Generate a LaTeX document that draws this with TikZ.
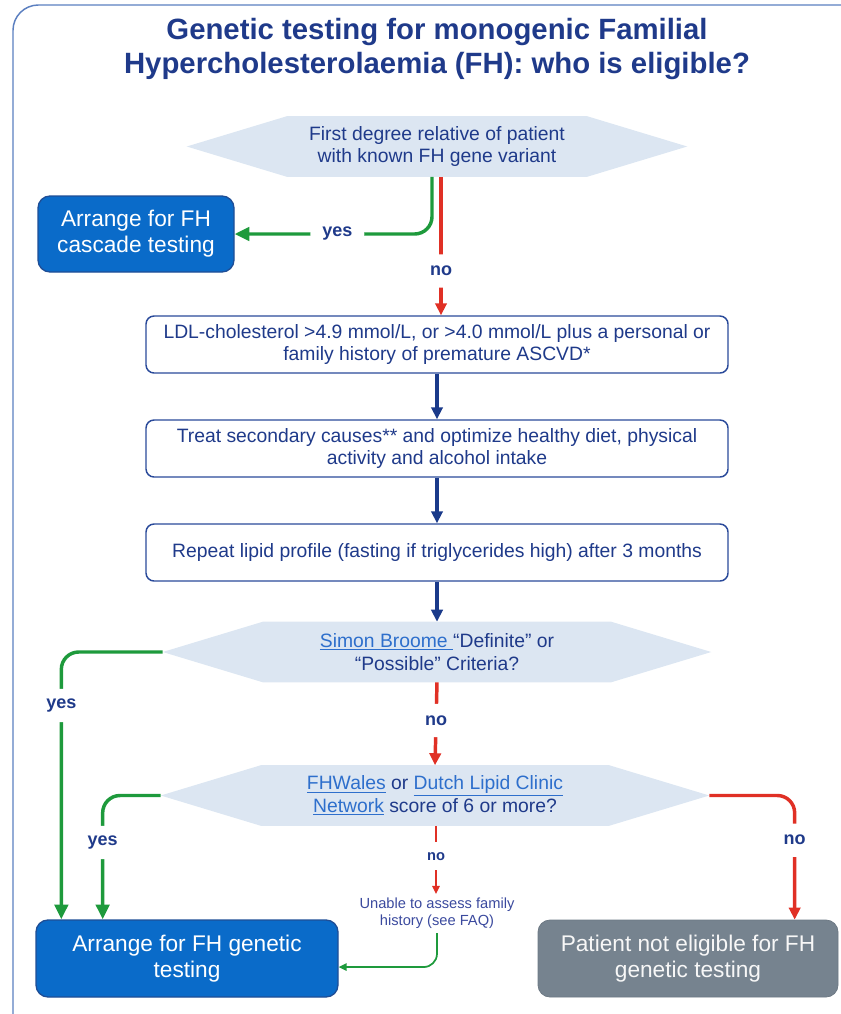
\documentclass[tikz,border=0pt]{standalone}
\usepackage{fontspec}
\setmainfont{Liberation Sans}
\usetikzlibrary{arrows.meta,calc}
\pgfdeclarelayer{background}
\pgfsetlayers{background,main}
\definecolor{navy}{HTML}{1F3A8A}
\definecolor{ggreen}{HTML}{1E9A3C}
\definecolor{rred}{HTML}{E03025}
\definecolor{barrow}{HTML}{1A3A8A}
\definecolor{bbfill}{HTML}{0A6BC9}
\definecolor{bbborder}{HTML}{1F4E96}
\definecolor{greyfill}{HTML}{76838F}
\definecolor{hexfill}{HTML}{DCE6F2}
\definecolor{linkc}{HTML}{2E6FCC}
\definecolor{framec}{HTML}{5B7FC0}
\definecolor{smalltext}{HTML}{3B4A9E}
\definecolor{boxborder}{HTML}{2A4A9A}
\newcommand{\lnk}[1]{\textcolor{linkc}{\underline{#1}}}
\begin{document}
\begin{tikzpicture}[x=0.75pt,y=-0.75pt,
  title/.style={text=navy,font=\fontsize{22}{25.5}\selectfont\bfseries,align=center},
  wbox/.style={draw=boxborder,line width=1.1pt,fill=white,rounded corners=6pt,text=navy,
    font=\fontsize{14.5}{17}\selectfont,align=center,minimum width=436.5pt,minimum height=42.75pt,inner sep=0pt},
  bluebox/.style={draw=bbborder,line width=1pt,fill=bbfill,rounded corners=9pt,text=white,
    font=\fontsize{17}{19.5}\selectfont,align=center,inner sep=0pt},
  greybox/.style={draw=greyfill!92!black,line width=0.6pt,fill=greyfill,rounded corners=9pt,text=white!94!gray,
    font=\fontsize{17}{19.5}\selectfont,align=center,inner sep=0pt},
  hexnode/.style={minimum height=45pt,inner sep=0pt,align=center,text=navy,font=\fontsize{14.5}{17}\selectfont},
  hexshape/.style={fill=hexfill},
  garr/.style={draw=ggreen,line width=2.6pt,-{Triangle[length=11pt,width=10pt]},rounded corners=13pt},
  rarr/.style={draw=rred,line width=2.6pt,-{Triangle[length=9pt,width=8.5pt]},rounded corners=13pt},
  barr/.style={draw=barrow,line width=2.4pt,-{Triangle[length=9pt,width=8.5pt]}},
  rthin/.style={draw=rred,line width=1.3pt,-{Triangle[length=6pt,width=5.5pt]}},
  gthin/.style={draw=ggreen,line width=1.3pt,-{Triangle[length=6pt,width=5.5pt]},rounded corners=10pt},
  lbl/.style={fill=white,text=navy,font=\fontsize{13.5}{15}\selectfont\bfseries,inner xsep=9pt,minimum height=25pt},
  slbl/.style={fill=white,text=navy,font=\fontsize{11}{13}\selectfont\bfseries,inner xsep=5pt,minimum height=21pt},
  smallnote/.style={text=smalltext,font=\fontsize{11}{12.75}\selectfont,align=center,inner sep=3pt}
]
\useasboundingbox (0,0) rectangle (841,1014);
\clip (0,0) rectangle (841,1014);
% outer frame
\draw[framec,line width=1.1pt,rounded corners=19pt] (13,1060) -- (13,5) -- (900,5);

% title
\node[title] (title) at (437,49) {Genetic testing for monogenic Familial\\Hypercholesterolaemia (FH): who is eligible?};

% hexagon decisions
\node[hexnode,minimum width=375pt] (h1) at (437,146.5) {First degree relative of patient\\with known FH gene variant};
\node[hexnode,minimum width=411pt] (h2) at (437,652) {\lnk{Simon Broome\ }“Definite” or\\“Possible” Criteria?};
\node[hexnode,minimum width=411pt] (h3) at (435,795.5) {\lnk{FHWales} or \lnk{Dutch Lipid Clinic}\\\lnk{Network} score of 6 or more?};
\begin{pgfonlayer}{background}
\foreach \h in {h1,h2,h3}{
  \fill[hexshape] (\h.west) -- ([xshift=75pt]\h.north west) -- ([xshift=-75pt]\h.north east) -- (\h.east)
    -- ([xshift=-75pt]\h.south east) -- ([xshift=75pt]\h.south west) -- cycle;
}
\end{pgfonlayer}

% boxes
\node[bluebox,minimum width=147pt,minimum height=57pt] (casc) at (136,234) {Arrange for FH\\cascade testing};
\node[wbox] (ldl) at (437,344.5) {LDL-cholesterol >4.9 mmol/L, or >4.0 mmol/L plus a personal or\\family history of premature ASCVD*};
\node[wbox] (treat) at (437,448.5) {Treat secondary causes** and optimize healthy diet, physical\\activity and alcohol intake};
\node[wbox] (rep) at (437,552.5) {Repeat lipid profile (fasting if triglycerides high) after 3 months};
\node[bluebox,minimum width=226.5pt,minimum height=57.75pt] (gen) at (187,958.5) {Arrange for FH genetic\\testing};
\node[greybox,minimum width=225pt,minimum height=57.75pt] (grey) at (688,958.5) {Patient not eligible for FH\\genetic testing};
\node[smallnote] (unable) at (437,913.5) {Unable to assess family\\history (see FAQ)};

% connectors
\draw[garr] ([xshift=-3.75pt]h1.south) |- (casc.east) node[lbl,pos=0.74] {yes};
\draw[rarr] ([xshift=3pt]h1.south) -- ([xshift=3pt]h1.south |- ldl.north) node[lbl,pos=0.68] {no};
\draw[barr] (ldl.south) -- (treat.north);
\draw[barr] (treat.south) -- (rep.north);
\draw[barr] (rep.south) -- (h2.north);
\draw[garr] (h2.west) -| ([xshift=19.5pt]gen.north west) node[lbl,pos=0.6] {yes};
\draw[rarr] (h2.south) -- (h3.south |- h3.north) node[lbl,pos=0.46] {no};
\draw[garr] (h3.west) -| ([xshift=50.5pt]gen.north west) node[lbl,pos=0.69] {yes};
\draw[rarr] (h3.east) -| ([xshift=80pt]grey.north) node[lbl,pos=0.68] {no};
\draw[rthin] ([xshift=0.75pt]h3.south) -- ([xshift=0.75pt]h3.south |- unable.north) node[slbl,pos=0.45] {no};
\draw[gthin] (unable.south) |- ([yshift=-6.4pt]gen.east);
\end{tikzpicture}
\end{document}
